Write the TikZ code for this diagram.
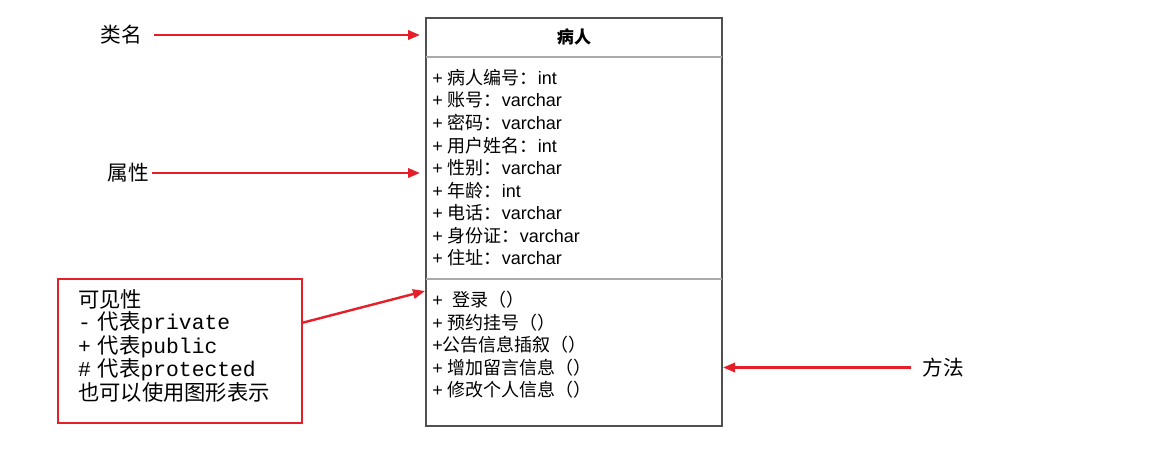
\documentclass[tikz,border=0pt]{standalone}
\usepackage{fontspec}
\setmainfont{Liberation Sans}
\newfontfamily\cjk{Noto Sans CJK SC}
\newfontfamily\vismono{Liberation Mono}
\usetikzlibrary{arrows.meta}
\definecolor{notered}{RGB}{230,30,40}
\definecolor{boxgray}{RGB}{80,80,80}
\definecolor{sepgray}{RGB}{170,170,170}
\newcommand{\cj}[1]{{\cjk #1}}
\tikzset{
  redarrow/.style={notered,line width=1.8pt,-{Triangle[length=9pt,width=7pt]}},
  member/.style={anchor=base west,inner sep=0pt,font=\fontsize{13.5}{15}\selectfont},
  tag/.style={inner sep=0pt,font=\cjk\fontsize{15.5}{18}\selectfont},
  notebox/.style={draw=notered,line width=1.5pt,anchor=north west,align=left,
    minimum width=183pt,minimum height=108pt,text width=153pt,inner xsep=14pt,
    font=\vismono\fontsize{16}{16.7}\selectfont},
}

\begin{document}
\begin{tikzpicture}[x=0.75pt,y=-0.75pt]
    \useasboundingbox (0,0) rectangle (1161,453);
    % class box
    \coordinate(NW) at (426,18);
    \coordinate(SE) at (722,426);
    \draw[boxgray,line width=1.4pt](NW) rectangle (SE);
    \draw[sepgray,line width=0.8pt](426,57)--(722,57);
    \draw[sepgray,line width=0.8pt](426,279)--(722,279);
    \node[inner sep=0pt,font=\cjk\fontsize{12.8}{15}\selectfont\bfseries](title) at (574,37) {病人};
    \foreach \txt [count=\i] in {+ \cj{病人编号：}int,+ \cj{账号：}varchar,+ \cj{密码：}varchar,
        + \cj{用户姓名：}int,+ \cj{性别：}varchar,+ \cj{年龄：}int,+ \cj{电话：}varchar,
        + \cj{身份证：}varchar,+ \cj{住址：}varchar}
        \node[member](attr\i) at (432,{62+22.5*\i}) {\txt};
    \foreach \txt [count=\i] in {+~~\cj{登录（）},+ \cj{预约挂号（）},+\cj{公告信息插叙（）},
        + \cj{增加留言信息（）},+ \cj{修改个人信息（）}}
        \node[member](meth\i) at (432,{284+22.5*\i}) {\txt};
    % labels and arrows
    \coordinate(cname) at (420,35);
    \coordinate(cattr) at (420,173);
    \coordinate(cvis) at (425,291);
    \coordinate(cmeth) at (723,367.5);
    \node[tag](lblname) at (121,35) {类名};
    \node[tag](lblattr) at (128,173) {属性};
    \node[tag](lblmeth) at (943,367.5) {方法};
    \node[notebox](visbox) at (57,278) {\cj{可见性}\\- \cj{代表}private\\+ \cj{代表}public\\
        \# \cj{代表}protected\\\cj{也可以使用图形表示}\rule[-9pt]{0pt}{1pt}};
    \draw[redarrow,shorten <=9pt](lblname.east)--(cname);
    \draw[redarrow,shorten <=2pt](lblattr.east)--(cattr);
    \draw[redarrow,shorten <=8pt](lblmeth.west)--(cmeth);
    \draw[redarrow](visbox.13)--(cvis);
\end{tikzpicture}
\end{document}
